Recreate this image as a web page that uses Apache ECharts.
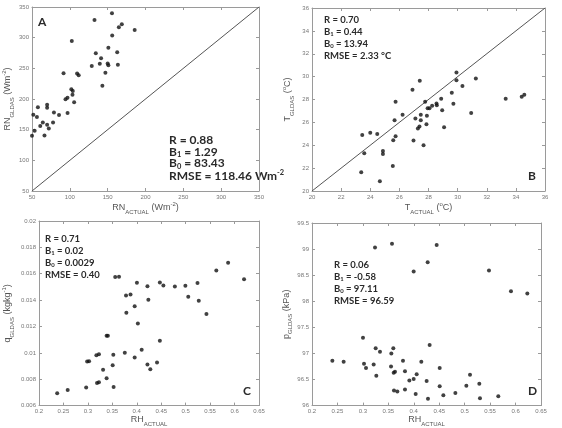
<!DOCTYPE html>
<html><head><meta charset="utf-8">
<script src="https://cdn.jsdelivr.net/npm/echarts@6/dist/echarts.min.js"></script>
<style>html,body{margin:0;padding:0;background:#fff}#c{width:562px;height:428px}</style>
</head><body><div id="c"></div>
<script>
// Panel A: net radiation
const aActual = [132.6,155.7,102.6,164.8,168.7,185.7,156,134.3,150.9,141.3,162.6,139.6,129,150,150.9,163.5,147,143,91.7,109.6,111.7,102,103.9,103.5,105.7,94.3,96.9,57.8,70,70,51.7,56.5,79,85.7,97,60.9,64.3,70,72.2,77.8,53.5,50,66.5];
const aGldas  = [329,339.7,294.4,317,322,312.4,303.7,274.7,283.5,266.6,276.4,257.3,254,257.9,255,255.7,243,221.8,242,241.5,238.8,215.8,213,207,194.6,199.5,202,186.4,190.7,185.8,174.4,170.6,178,173.8,177,155.8,161.8,158,152,161.8,148.2,140,140.6];
// Panel B: temperature
const bActual = [29.92,29.92,31.25,27.4,26.9,30.33,29.6,29.71,28.87,27.77,25.74,28.55,28.57,28.25,27.94,28.07,28.94,26.22,27.47,27.89,27.1,27.47,25.67,30.93,27.86,27.38,27.27,29.07,33.3,34.4,34.58,23.45,24,24.48,25.74,25.58,26.97,27.66,24.87,24.87,23.59,25.55,23.38,24.66];
const bGldas  = [30.37,29.69,29.84,29.64,28.85,29.17,28.58,27.62,28.06,27.8,27.8,27.65,27.5,27.45,27.24,27.24,27.07,26.66,26.66,26.57,26.34,26.19,26.19,26.83,25.84,25.64,25.46,25.58,28.06,28.23,28.41,24.9,25.1,24.99,24.79,24.44,24.41,24,23.5,23.24,23.3,22.19,21.64,20.85];
// Panel C: specific humidity
const cRH = [0.5868,0.5627,0.6194,0.3559,0.3637,0.4003,0.4218,0.4472,0.4544,0.4779,0.4994,0.5242,0.5053,0.5268,0.5425,0.378,0.3872,0.3957,0.4237,0.3787,0.4022,0.3383,0.3409,0.4472,0.41,0.3755,0.3226,0.3174,0.352,0.2985,0.3024,0.3957,0.4414,0.4218,0.3507,0.4277,0.3311,0.3383,0.3187,0.3226,0.2965,0.3526,0.2587,0.2372];
const cQ  = [0.01684,0.01625,0.01559,0.01575,0.01577,0.01532,0.01506,0.01534,0.01511,0.01504,0.01509,0.01529,0.01425,0.01395,0.01294,0.01435,0.01443,0.01354,0.01403,0.01304,0.01223,0.01129,0.01129,0.01091,0.01023,0.0100,0.0099,0.00982,0.00985,0.00934,0.00937,0.00965,0.00927,0.00911,0.00906,0.00876,0.00871,0.00808,0.00772,0.00777,0.00737,0.00742,0.00719,0.00694];
// Panel D: pressure
const dRH = [0.3238,0.3572,0.445,0.4273,0.3998,0.5478,0.591,0.6231,0.3002,0.3251,0.3598,0.3336,0.4312,0.3559,0.24,0.2622,0.3788,0.4148,0.3022,0.3212,0.3061,0.3553,0.4509,0.3631,0.3605,0.3827,0.4057,0.3264,0.5105,0.3913,0.3998,0.4253,0.4509,0.5033,0.5288,0.3611,0.3677,0.3827,0.4037,0.4817,0.4581,0.4279,0.5301,0.5661];
const dP  = [99.03,99.1,99.08,98.75,98.57,98.59,98.19,98.15,97.3,97.1,97.1,97.03,97.16,97.0,96.86,96.84,96.86,96.84,96.8,96.79,96.72,96.75,96.72,96.65,96.63,96.66,96.6,96.57,96.59,96.48,96.51,96.47,96.37,96.38,96.42,96.29,96.27,96.31,96.22,96.24,96.2,96.13,96.14,96.18];

// 1:1 reference lines
const lineA = [50, 350];
const lineB = [20, 36];

// axis ranges and ticks
const axA = {xmin:50,xmax:350,xint:50,ymin:50,ymax:350,yint:50};
const axB = {xmin:20,xmax:36,xint:2,ymin:20,ymax:36,yint:2};
const axC = {xmin:0.2,xmax:0.65,xint:0.05,ymin:0.006,ymax:0.02,yint:0.002};
const axD = {xmin:0.2,xmax:0.65,xint:0.05,ymin:96,ymax:99.5,yint:0.5};

// annotation texts
const statsA = ['R = 0.88','B{s|1} = 1.29','B{s|0} = 83.43','RMSE = 118.46 Wm{p|-2}'];
const statsB = ['R = 0.70','B{s|1} = 0.44','B{s|0} = 13.94','RMSE = 2.33 °C'];
const statsC = ['R = 0.71','B{s|1} = 0.02','B{s|0} = 0.0029','RMSE = 0.40'];
const statsD = ['R = 0.06','B{s|1} = -0.58','B{s|0} = 97.11','RMSE = 96.59'];

const xNames = ['{a|RN}{s|ACTUAL}{a| (Wm}{p|-2}{a|)}','{a|T}{s|ACTUAL}{a| (}{p|o}{a|C)}','{a|RH}{s|ACTUAL}','{a|RH}{s|ACTUAL}'];
const yNames = ['{a|RN}{s|GLDAS}{a| (Wm}{p|-2}{a|)}','{a|T}{s|GLDAS}{a| (}{p|o}{a|C)}','{a|q}{s|GLDAS}{a| (kgkg}{p|-1}{a|)}','{a|p}{s|GLDAS}{a| (kPa)}'];

const grids = [
  {left:29,top:7,width:230,height:184},
  {left:312,top:8,width:233,height:183},
  {left:29,top:221,width:230,height:185},
  {left:312,top:223,width:229,height:183}
];
const axes = [axA,axB,axC,axD];

const axisColor = '#9a9a9a';
const nameRich = {
  a:{fontSize:9,color:'#555',fontFamily:'Liberation Sans',lineHeight:14,verticalAlign:'middle'},
  s:{fontSize:6,color:'#555',fontFamily:'Liberation Sans',lineHeight:14,verticalAlign:'bottom'},
  p:{fontSize:6,color:'#555',fontFamily:'Liberation Sans',lineHeight:14,verticalAlign:'top'}
};

const xAxis = [], yAxis = [];
axes.forEach((ax,i)=>{
  const common = {
    gridIndex:i, type:'value', min:ax.xmin, max:ax.xmax, interval:ax.xint,
    axisLine:{show:true,onZero:false,lineStyle:{color:axisColor,width:1}},
    axisTick:{show:true,inside:true,length:3,lineStyle:{color:axisColor}},
    splitLine:{show:false}
  };
  xAxis.push(Object.assign({}, common, {
    position:'bottom',
    axisLabel:{show:true,fontSize:6,color:'#777',margin:3,fontFamily:'Liberation Sans',showMinLabel:true,showMaxLabel:true},
    name:xNames[i], nameLocation:'middle', nameGap:6,
    nameTextStyle:{rich:nameRich}
  }));
  xAxis.push(Object.assign({}, common, {position:'top',axisLabel:{show:false}}));
  const ycommon = {
    gridIndex:i, type:'value', min:ax.ymin, max:ax.ymax, interval:ax.yint,
    axisLine:{show:true,onZero:false,lineStyle:{color:axisColor,width:1}},
    axisTick:{show:true,inside:true,length:3,lineStyle:{color:axisColor}},
    splitLine:{show:false}
  };
  yAxis.push(Object.assign({}, ycommon, {
    position:'left',
    axisLabel:{show:true,fontSize:6,color:'#777',margin:3,fontFamily:'Liberation Sans',showMinLabel:true,showMaxLabel:true},
    name:yNames[i], nameLocation:'middle', nameGap: i===2?24:17, nameRotate:90,
    nameTextStyle:{rich:nameRich}
  }));
  yAxis.push(Object.assign({}, ycommon, {position:'right',axisLabel:{show:false}}));
});

function pairs(xs, ys){ return xs.map((x,k)=>[x, ys[k]]); }
const scatterStyle = {symbol:'circle',symbolSize:4,itemStyle:{color:'#111'},silent:true};
const series = [
  Object.assign({type:'scatter',xAxisIndex:0,yAxisIndex:0,data:pairs(aActual,aGldas)},scatterStyle),
  Object.assign({type:'scatter',xAxisIndex:2,yAxisIndex:2,data:pairs(bActual,bGldas)},scatterStyle),
  Object.assign({type:'scatter',xAxisIndex:4,yAxisIndex:4,data:pairs(cRH,cQ)},scatterStyle),
  Object.assign({type:'scatter',xAxisIndex:6,yAxisIndex:6,data:pairs(dRH,dP)},scatterStyle),
  {type:'line',xAxisIndex:0,yAxisIndex:0,data:pairs(lineA,lineA),symbol:'none',lineStyle:{color:'#555',width:1},silent:true,z:1},
  {type:'line',xAxisIndex:2,yAxisIndex:2,data:pairs(lineB,lineB),symbol:'none',lineStyle:{color:'#555',width:1},silent:true,z:1}
];

function statBlock(lines, x, y0, fs){
  const tops = [0,12,23.5,35.5];
  const sub = fs*0.62;
  const rich = {
    s:{fontSize:sub,fontWeight:'bold',fontFamily:'Lato',fill:'#2a2a2a',verticalAlign:'bottom',lineHeight:fs+1},
    p:{fontSize:sub,fontWeight:'bold',fontFamily:'Lato',fill:'#2a2a2a',verticalAlign:'top',lineHeight:fs+1}
  };
  return lines.map((t,k)=>({
    type:'text', left:x, top:y0+tops[k],
    style:{text:t, font:'bold '+fs+'px Lato', fill:'#2a2a2a', rich:rich}
  }));
}
const graphic = [].concat(
  statBlock(statsA,169,134,12),
  statBlock(statsB,324,15,9.5),
  statBlock(statsC,45,234,9.5),
  statBlock(statsD,334,260,9.5),
  [
    {type:'text',left:38,top:16,style:{text:'A',font:'bold 12px Lato',fill:'#2a2a2a'}},
    {type:'text',left:528,top:170,style:{text:'B',font:'bold 12px Lato',fill:'#2a2a2a'}},
    {type:'text',left:243,top:385,style:{text:'C',font:'bold 12px Lato',fill:'#2a2a2a'}},
    {type:'text',left:528,top:385,style:{text:'D',font:'bold 12px Lato',fill:'#2a2a2a'}}
  ]
);

const chart = echarts.init(document.getElementById('c'), null, {renderer:'canvas'});
chart.setOption({animation:false,backgroundColor:'#fff',grid:grids,xAxis:xAxis,yAxis:yAxis,series:series,graphic:graphic});
</script></body></html>
